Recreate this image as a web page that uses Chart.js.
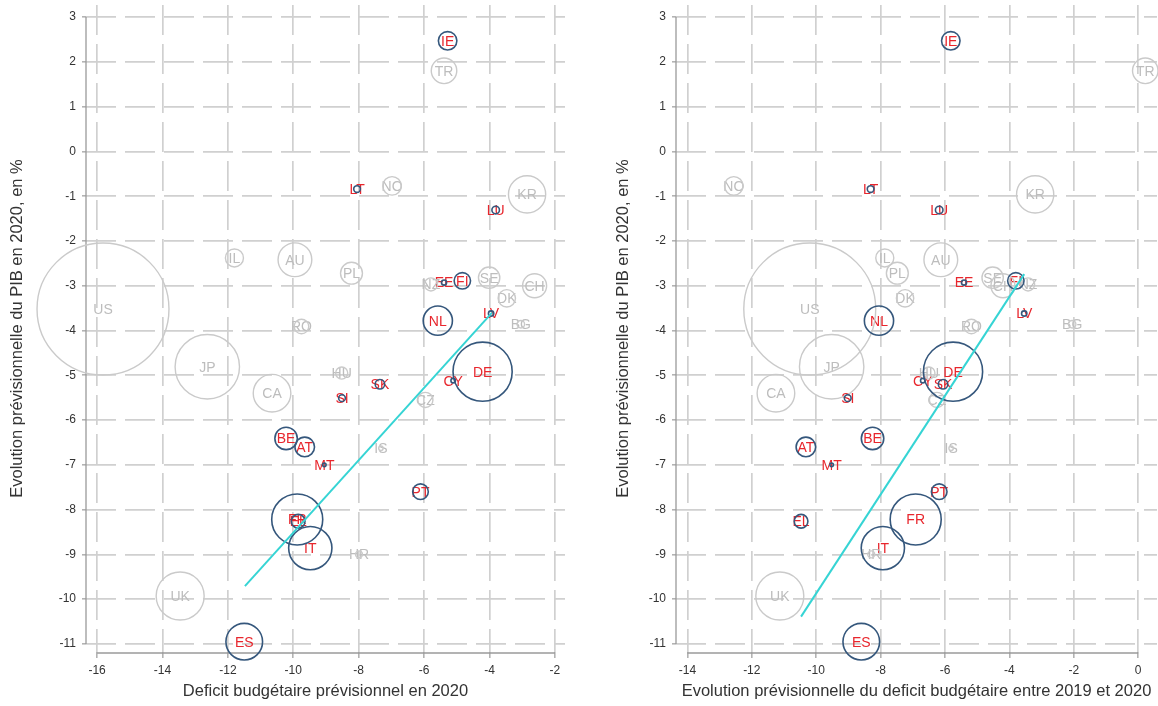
<!DOCTYPE html>
<html>
<head>
<meta charset="utf-8">
<script src="https://cdn.jsdelivr.net/npm/chart.js@4/dist/chart.umd.min.js"></script>
<style>
  html, body { margin: 0; padding: 0; background: #fff; }
  #wrap { position: relative; width: 1158px; height: 706px; }
  canvas { position: absolute; top: 0; }
</style>
</head>
<body>
<div id="wrap">
  <canvas id="gauche" width="579" height="706" style="left:0"></canvas>
  <canvas id="droite" width="579" height="706" style="left:579px"></canvas>
</div>
<script>
// pays, zone euro ou non, croissance 2020, deficit 2020, evolution du deficit, PIB (Mds $)
const pays = ['IE', 'LT', 'LU', 'EE', 'FI', 'LV', 'NL', 'DE', 'CY', 'SK', 'SI', 'BE', 'AT', 'MT', 'PT', 'FR', 'EL', 'IT', 'ES',
              'TR', 'NO', 'KR', 'US', 'IL', 'AU', 'PL', 'NZ', 'SE', 'CH', 'DK', 'BG', 'RO', 'JP', 'CA', 'HU', 'CZ', 'IS', 'HR', 'UK'];
const zoneEuro = [true, true, true, true, true, true, true, true, true, true, true, true, true, true, true, true, true, true, true,
                  false, false, false, false, false, false, false, false, false, false, false, false, false, false, false, false, false, false, false, false];
const croissancePib = [2.47, -0.84, -1.31, -2.93, -2.89, -3.62, -3.78, -4.92, -5.12, -5.20, -5.51, -6.41, -6.60, -7.0, -7.60, -8.22, -8.26, -8.86, -10.95,
                       1.80, -0.77, -0.96, -3.52, -2.38, -2.42, -2.72, -2.97, -2.82, -3.0, -3.28, -3.86, -3.91, -4.81, -5.40, -4.95, -5.55, -6.63, -9.0, -9.93];
const deficit2020 = [-5.28, -8.05, -3.81, -5.39, -4.83, -3.95, -5.58, -4.21, -5.11, -7.35, -8.51, -10.22, -9.65, -9.05, -6.11, -9.88, -9.85, -9.48, -11.50,
                     -5.39, -6.98, -2.85, -15.82, -11.80, -9.95, -8.22, -5.79, -4.01, -2.62, -3.47, -3.04, -9.75, -12.63, -10.65, -8.52, -5.96, -7.32, -7.99, -13.46];
const evolDeficit = [-5.82, -8.31, -6.18, -5.41, -3.80, -3.54, -8.05, -5.75, -6.69, -6.06, -9.02, -8.25, -10.32, -9.52, -6.18, -6.91, -10.47, -7.93, -8.60,
                     0.22, -12.56, -3.20, -10.2, -7.87, -6.13, -7.48, -3.42, -4.52, -4.2, -7.24, -2.05, -5.18, -9.52, -11.25, -6.50, -6.25, -5.81, -8.29, -11.13];
const pibMds = [420, 55, 70, 32, 330, 35, 1050, 4300, 25, 110, 55, 620, 470, 15, 300, 3200, 230, 2300, 1650,
                800, 420, 1700, 21400, 400, 1400, 590, 210, 560, 710, 370, 68, 260, 5100, 1740, 180, 280, 24, 60, 2830];

const xTicksGauche = [-16, -14, -12, -10, -8, -6, -4, -2];
const xTicksDroite = [-14, -12, -10, -8, -6, -4, -2, 0];
const yTicks = [3, 2, 1, 0, -1, -2, -3, -4, -5, -6, -7, -8, -9, -10, -11];

// droites d'ajustement (zone euro)
const ajustGaucheX = [-11.48, -3.92];
const ajustGaucheY = [-9.71, -3.60];
const ajustDroiteX = [-10.47, -3.54];
const ajustDroiteY = [-10.39, -2.74];

const police = 'Arial, "Liberation Sans", sans-serif';
const rayon = pib => 0.451 * Math.sqrt(pib);

function points(xs, euro) {
  return pays.map((p, i) => ({ x: xs[i], y: croissancePib[i], r: rayon(pibMds[i]), pays: p, euro: zoneEuro[i] }))
    .filter(d => d.euro === euro);
}

const etiquettes = {
  id: 'etiquettes',
  beforeDatasetsDraw(chart) {
    const ctx = chart.ctx;
    const { x, y } = chart.scales;
    ctx.save();
    // axes (seulement sur l'etendue des graduations)
    ctx.strokeStyle = '#9a9a9a';
    ctx.lineWidth = 1.3;
    ctx.beginPath();
    ctx.moveTo(chart.chartArea.left, y.getPixelForValue(yTicks[0]));
    ctx.lineTo(chart.chartArea.left, y.getPixelForValue(yTicks[yTicks.length - 1]));
    const xt = x.ticks;
    ctx.moveTo(x.getPixelForValue(xt[0].value), chart.chartArea.bottom + 1);
    ctx.lineTo(x.getPixelForValue(xt[xt.length - 1].value), chart.chartArea.bottom + 1);
    ctx.stroke();
    // codes pays
    ctx.font = '14px ' + police;
    ctx.textAlign = 'center';
    ctx.textBaseline = 'middle';
    chart.data.datasets.forEach((ds, di) => {
      if (ds.type === 'line') return;
      const meta = chart.getDatasetMeta(di);
      meta.data.forEach((el, i) => {
        ctx.fillStyle = ds.data[i].euro ? '#e8262d' : '#bdbdbd';
        ctx.fillText(ds.data[i].pays, el.x, el.y + 1);
      });
    });
    ctx.restore();
  }
};

function creerGraphique(id, xs, xTicks, xMin, xMax, largeurY, padTitreY, titreX, ajustX, ajustY, padDroite) {
  return new Chart(document.getElementById(id), {
    type: 'bubble',
    data: {
      datasets: [
        {
          type: 'line',
          data: ajustX.map((v, i) => ({ x: v, y: ajustY[i] })),
          borderColor: '#36d4d4',
          borderWidth: 2,
          pointRadius: 0,
          order: 0
        },
        {
          data: points(xs, true),
          borderColor: '#35577c',
          backgroundColor: 'rgba(0,0,0,0)',
          borderWidth: 1.6,
          clip: false,
          order: 1
        },
        {
          data: points(xs, false),
          borderColor: '#cacaca',
          backgroundColor: 'rgba(0,0,0,0)',
          borderWidth: 1.4,
          clip: false,
          order: 2
        }
      ]
    },
    options: {
      responsive: false,
      animation: false,
      events: [],
      layout: { autoPadding: false, padding: { top: 5, right: padDroite, left: 0, bottom: 0 } },
      plugins: { legend: { display: false }, tooltip: { enabled: false } },
      scales: {
        x: {
          type: 'linear',
          min: xMin,
          max: xMax,
          afterBuildTicks: s => { s.ticks = xTicks.map(v => ({ value: v })); },
          afterFit: s => { s.height = 54; s.paddingLeft = 0; s.paddingRight = 0; },
          grid: { color: '#d0d0d0', lineWidth: 1.7, tickLength: 6, tickColor: '#9a9a9a', tickWidth: 1.2 },
          border: { display: false, dash: [30, 9] },
          ticks: { color: '#333', font: { family: police, size: 12 }, padding: 5, maxRotation: 0, callback: v => String(v) },
          title: { display: true, text: titreX, color: '#333', font: { family: police, size: 16.5 }, padding: { top: 0, bottom: 5 } }
        },
        y: {
          type: 'linear',
          min: -11.18,
          max: 3.27,
          afterBuildTicks: s => { s.ticks = yTicks.map(v => ({ value: v })); },
          afterFit: s => { s.width = largeurY; s.paddingTop = 0; s.paddingBottom = 0; },
          grid: { color: '#d0d0d0', lineWidth: 1.7, tickLength: 4, tickColor: '#9a9a9a', tickWidth: 1.2 },
          border: { display: false, dash: [30, 9] },
          ticks: { color: '#333', font: { family: police, size: 12 }, padding: 6, callback: v => String(v) },
          title: { display: true, text: 'Evolution prévisionnelle du PIB en 2020, en %', color: '#333', font: { family: police, size: 16.5 }, padding: { top: padTitreY, bottom: 0 } }
        }
      }
    },
    plugins: [etiquettes]
  });
}

creerGraphique('gauche', deficit2020, xTicksGauche, -16.34, -1.69, 86, 8,
  'Deficit budgétaire prévisionnel en 2020', ajustGaucheX, ajustGaucheY, 14);
creerGraphique('droite', evolDeficit, xTicksDroite, -14.354, 0.584, 97, 35,
  'Evolution prévisionnelle du deficit budgétaire entre 2019 et 2020', ajustDroiteX, ajustDroiteY, 1);
</script>
</body>
</html>
